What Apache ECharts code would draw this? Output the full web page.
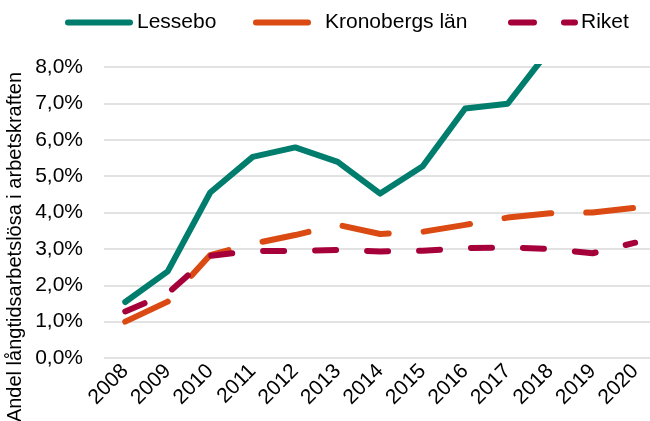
<!DOCTYPE html>
<html>
<head>
<meta charset="utf-8">
<script src="https://cdn.jsdelivr.net/npm/echarts@6/dist/echarts.min.js"></script>
<style>
	html, body { margin: 0; padding: 0; background: #fff; }
	#chart { width: 650px; height: 421px; }
</style>
</head>
<body>
<div id="chart"></div>
<script>
/** 长期失业率 折线图 */
let years = [2008, 2009, 2010, 2011, 2012, 2013, 2014, 2015, 2016, 2017, 2018, 2019, 2020];
let lessebo = [1.54, 2.38, 4.55, 5.53, 5.79, 5.39, 4.52, 5.27, 6.86, 6.99, 8.5, null, null];
let kronoberg = [1.0, 1.55, 2.83, 3.14, 3.38, 3.66, 3.41, 3.47, 3.66, 3.86, 3.98, 4.0, 4.13];
let riket = [1.28, 1.78, 2.81, 2.94, 2.94, 2.97, 2.93, 2.95, 3.02, 3.04, 3.0, 2.88, 3.17];
let y_ticks = [0, 1, 2, 3, 4, 5, 6, 7, 8];
let names = ["Lessebo", "Kronobergs län", "Riket"];

let font = "'Liberation Sans', Arial, sans-serif";
function pairs(arr) {
	return arr.map(function (v, i) {
		return [years[i], v];
	});
}

// 图例: 每个单独放置
function makeLegend(name, left, width, textPad, dash) {
	return {
		data: [name],
		left: left,
		top: 12,
		padding: 0,
		itemWidth: width,
		itemHeight: 22,
		itemStyle: { opacity: 0 },
		lineStyle: { width: 6, type: dash },
		textStyle: { fontSize: 21, color: "#000", fontFamily: font, padding: [0, 0, 0, textPad] },
	};
}

let chart = echarts.init(document.getElementById("chart"));
let option = {
	animation: false,
	backgroundColor: "#fff",
	textStyle: { fontFamily: font },
	legend: [
		makeLegend(names[0], 65, 62, 2, "solid"),
		makeLegend(names[1], 253, 52, 12, "solid"),
		makeLegend(names[2], 508, 64, 1, [23, 30]),
	],
	grid: {
		left: 104,
		right: 0,
		top: 67,
		bottom: 63,
	},
	xAxis: {
		type: "value",
		min: 2007.5,
		max: 2020.35,
		axisLine: { show: false },
		axisTick: { show: false },
		splitLine: { show: false },
		axisLabel: {
			customValues: years,
			rotate: 45,
			margin: 10,
			fontSize: 21,
			color: "#000",
			fontFamily: font,
			formatter: function (v) {
				return String(v);
			},
		},
	},
	yAxis: {
		type: "value",
		min: 0,
		max: 8,
		interval: 1,
		axisLine: { show: false },
		axisTick: { show: false },
		splitLine: {
			lineStyle: { color: "#d9d9d9", width: 1.5 },
		},
		axisLabel: {
			customValues: y_ticks,
			margin: 21,
			fontSize: 21,
			color: "#000",
			fontFamily: font,
			formatter: function (v) {
				return v.toFixed(1).replace(".", ",") + "%";
			},
		},
	},
	graphic: [
		{
			// 纵轴标题
			type: "text",
			x: 15,
			y: 247,
			rotation: Math.PI / 2,
			style: {
				text: "Andel långtidsarbetslösa i arbetskraften",
				font: "20px " + font,
				fill: "#000",
				align: "center",
				verticalAlign: "middle",
			},
		},
	],
	series: [
		{
			name: names[1],
			type: "line",
			data: pairs(kronoberg),
			showSymbol: false,
			symbol: "none",
			clip: true,
			z: 2,
			itemStyle: { color: "#DA4A12" },
			lineStyle: { color: "#DA4A12", width: 6, type: [47, 35], cap: "round", join: "round" },
		},
		{
			name: names[2],
			type: "line",
			data: pairs(riket),
			showSymbol: false,
			symbol: "none",
			clip: true,
			z: 3,
			itemStyle: { color: "#A6003A" },
			lineStyle: { color: "#A6003A", width: 6, type: [21, 31], cap: "round", join: "round" },
		},
		{
			name: names[0],
			type: "line",
			data: pairs(lessebo),
			showSymbol: false,
			symbol: "none",
			clip: true,
			z: 4,
			itemStyle: { color: "#007D6D" },
			lineStyle: { color: "#007D6D", width: 6, cap: "round", join: "round" },
		},
	],
};
chart.setOption(option);
</script>
</body>
</html>
